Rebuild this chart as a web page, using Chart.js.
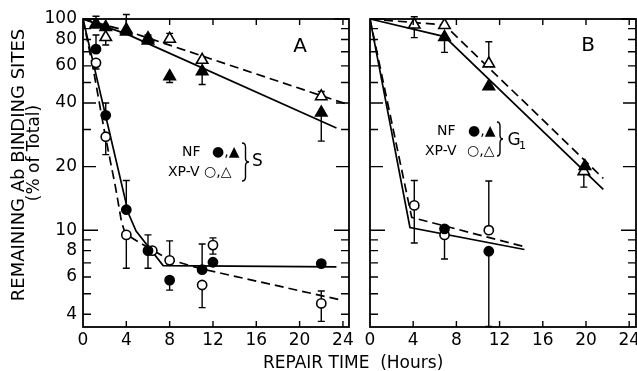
<!DOCTYPE html>
<html><head><meta charset="utf-8">
<script src="https://cdn.jsdelivr.net/npm/chart.js@4.4.1/dist/chart.umd.min.js"></script>
<style>
html,body{margin:0;padding:0;background:#fff;overflow:hidden;width:637px;height:371px;}
#wrap{position:relative;width:637px;height:371px;overflow:hidden;background:#fff;}
#ca{position:absolute;left:0;top:0;}
#cb{position:absolute;left:356px;top:0;}
#xt{position:absolute;left:263px;top:354px;font-family:"DejaVu Sans";font-size:17px;line-height:17px;white-space:pre;color:#000;}
</style></head><body>
<div id="wrap">
<canvas id="ca" width="360" height="371"></canvas>
<canvas id="cb" width="300" height="371"></canvas>
<div id="xt">REPAIR TIME  (Hours)</div>
</div>
<script>
// ---------- axis ticks ----------
const xTickLabels = [0, 4, 8, 12, 16, 20, 24];
const yTickLabels = [4, 6, 8, 10, 20, 40, 60, 80, 100];
const yTickMarks  = [4, 5, 6, 7, 8, 9, 10, 20, 30, 40, 50, 60, 70, 80, 90, 100];

// ---------- Panel A (S phase) : measured points ----------
const hoursA_nfCirc = [1.2, 2.1, 4, 6, 8, 11, 12, 22];
const pctA_nfCirc   = [72, 35, 12.5, 8.0, 5.8, 6.5, 7.05, 6.95];
const loA_nfCirc    = [null, null, null, 6.6, 5.2, null, null, null];
const hiA_nfCirc    = [84, 40, 17.2, 9.5, null, 8.6, null, null];

const hoursA_xpCirc = [1.2, 2.1, 4, 6.4, 8, 11, 12, 22];
const pctA_xpCirc   = [62, 27.7, 9.5, 8.0, 7.2, 5.5, 8.5, 4.5];
const loA_xpCirc    = [58, 22.8, 6.6, null, null, 4.3, 7.7, 3.7];
const hiA_xpCirc    = [null, null, null, null, 8.9, null, 9.2, 5.15];

const hoursA_nfTri = [1.2, 2.1, 4, 6, 8, 11, 22];
const pctA_nfTri   = [94, 91.5, 87, 79, 53.5, 56.5, 36];
const loA_nfTri    = [null, null, null, null, 50, 49, 26.4];
const hiA_nfTri    = [103, null, 105, 84, null, null, null];

const hoursA_xpTri = [1.2, 2.1, 4, 6, 8, 11, 22];
const pctA_xpTri   = [95, 82, 89, 81, 80.5, 64, 43];
const loA_xpTri    = [null, 75.3, null, null, null, null, null];
const hiA_xpTri    = [null, null, null, null, 85.5, null, 45.4];

// ---------- Panel A : fitted curves ----------
const fitA_nfTri_h  = [0, 4, 23.4];
const fitA_nfTri_v  = [100, 85, 30.5];
const fitA_xpTri_h  = [0, 4, 24.5];
const fitA_xpTri_v  = [100, 88, 39.3];
const fitA_nfCirc_h = [0, 4.2, 4.9, 7.4, 23.4];
const fitA_nfCirc_v = [100, 12, 9.9, 6.8, 6.7];
const fitA_xpCirc_h = [0, 1, 2, 3, 3.55, 3.8, 4.5, 6.4, 8, 11, 23.6];
const fitA_xpCirc_v = [100, 56, 29, 16, 11, 10, 9.2, 8.05, 7.25, 6.55, 4.7];

// ---------- Panel B (G1 phase) : measured points ----------
const hoursB_nfCirc = [6.9, 11];
const pctB_nfCirc   = [10.15, 7.95];
const loB_nfCirc    = [null, 3.5];
const hiB_nfCirc    = [null, null];

const hoursB_xpCirc = [4.1, 6.9, 11];
const pctB_xpCirc   = [13.1, 9.5, 10];
const loB_xpCirc    = [8.7, 7.3, null];
const hiB_xpCirc    = [17.2, null, 17.1];

const hoursB_nfTri = [6.9, 11, 19.9];
const pctB_nfTri   = [82, 48, 20.1];
const loB_nfTri    = [69.5, null, null];
const hiB_nfTri    = [null, null, null];

const hoursB_xpTri = [4.1, 6.9, 11, 19.8];
const pctB_xpTri   = [94, 93.5, 61.5, 19];
const loB_xpTri    = [81.6, null, null, 16];
const hiB_xpTri    = [102.5, null, 78, null];

// ---------- Panel B : fitted curves ----------
const fitB_nfTri_h  = [0, 6.9, 21.6];
const fitB_nfTri_v  = [100, 82.5, 15.6];
const fitB_xpTri_h  = [0, 6.9, 21.6];
const fitB_xpTri_v  = [100, 93.7, 17.6];
const fitB_nfCirc_h = [0, 3.7, 14.3];
const fitB_nfCirc_v = [100, 10.3, 8.1];
const fitB_xpCirc_h = [0, 3.86, 14.3];
const fitB_xpCirc_v = [100, 11.5, 8.35];

// ---------- helpers ----------
const FONT = '"DejaVu Sans"';
function pts(h, v) { return h.map((x, i) => ({ x: x, y: v[i] })); }

function markerSet(label, h, v, lo, hi, style, filled) {
  return {
    label: label, data: pts(h, v), errLo: lo, errHi: hi,
    showLine: false,
    pointStyle: style,
    pointRadius: style === 'triangle' ? 6.6 : 4.6,
    pointHoverRadius: style === 'triangle' ? 6.6 : 4.6,
    pointBackgroundColor: filled ? '#000' : '#fff',
    pointBorderColor: '#000',
    pointBorderWidth: 1.6,
    order: filled ? 0 : 1
  };
}
function fitSet(label, h, v, dashed) {
  return {
    label: label, data: pts(h, v), showLine: true,
    borderColor: '#000', borderWidth: 1.7,
    borderDash: dashed ? [9, 5] : [],
    pointRadius: 0, pointHoverRadius: 0, fill: false, tension: 0,
    order: 2
  };
}

const errorBars = {
  id: 'errorBars',
  beforeDatasetsDraw(chart) {
    const ctx = chart.ctx, x = chart.scales.x, y = chart.scales.y;
    ctx.save();
    ctx.strokeStyle = '#000'; ctx.lineWidth = 1.4;
    chart.data.datasets.forEach(ds => {
      if (!ds.errLo) return;
      ds.data.forEach((p, i) => {
        const px = x.getPixelForValue(p.x), py = y.getPixelForValue(p.y);
        [ds.errLo[i], ds.errHi[i]].forEach(e => {
          if (e == null) return;
          const ey = y.getPixelForValue(e);
          ctx.beginPath();
          ctx.moveTo(px, py); ctx.lineTo(px, ey);
          ctx.moveTo(px - 3.5, ey); ctx.lineTo(px + 3.5, ey);
          ctx.stroke();
        });
      });
    });
    ctx.restore();
  }
};

function tickLen(v) {
  if (v === 100 || v === 10) return 15;
  if (v === 20 || v === 40) return 13;
  return 8;
}

const frameTicks = {
  id: 'frameTicks',
  afterDatasetsDraw(chart) {
    const ctx = chart.ctx, a = chart.chartArea, x = chart.scales.x, y = chart.scales.y;
    ctx.save();
    ctx.strokeStyle = '#000';
    ctx.lineWidth = 1.8;
    ctx.strokeRect(a.left, a.top, a.right - a.left, a.bottom - a.top);
    ctx.lineWidth = 1.4;
    ctx.beginPath();
    yTickMarks.forEach(v => {
      const py = y.getPixelForValue(v), L = tickLen(v);
      ctx.moveTo(a.left, py); ctx.lineTo(a.left + L, py);
      ctx.moveTo(a.right, py); ctx.lineTo(a.right - L, py);
    });
    xTickLabels.forEach(v => {
      const px = x.getPixelForValue(v);
      if (px <= a.left + 1 || px >= a.right - 1) return;
      ctx.moveTo(px, a.top); ctx.lineTo(px, a.top + 6);
      ctx.moveTo(px, a.bottom); ctx.lineTo(px, a.bottom - 6);
    });
    ctx.stroke();
    ctx.restore();
  }
};

function textPlugin(items, braces) {
  return {
    id: 'texts',
    afterDraw(chart) {
      const ctx = chart.ctx;
      items.forEach(t => {
        ctx.save();
        ctx.fillStyle = '#000';
        ctx.font = t.size + 'px ' + FONT;
        ctx.textAlign = t.align || 'left';
        ctx.textBaseline = 'middle';
        ctx.translate(t.x, t.y);
        if (t.rot) ctx.rotate(t.rot);
        ctx.fillText(t.text, 0, 0);
        ctx.restore();
      });
      braces.forEach(b => {
        const x0 = b.x, w = b.w, y1 = b.y1, y2 = b.y2, ym = (y1 + y2) / 2, xm = x0 + w / 2;
        ctx.save();
        ctx.strokeStyle = '#000'; ctx.lineWidth = 1.4;
        ctx.beginPath();
        ctx.moveTo(x0, y1);
        ctx.quadraticCurveTo(xm, y1, xm, y1 + 4);
        ctx.lineTo(xm, ym - 4);
        ctx.quadraticCurveTo(xm, ym, x0 + w, ym);
        ctx.quadraticCurveTo(xm, ym, xm, ym + 4);
        ctx.lineTo(xm, y2 - 4);
        ctx.quadraticCurveTo(xm, y2, x0, y2);
        ctx.stroke();
        ctx.restore();
      });
    }
  };
}

function makeChart(id, datasets, xMax, padLeft, padRight, showY, tp) {
  return new Chart(document.getElementById(id), {
    type: 'scatter',
    data: { datasets: datasets },
    options: {
      responsive: false, animation: false, devicePixelRatio: 1,
      layout: { padding: { left: padLeft, right: padRight, top: 19, bottom: 0 } },
      plugins: { legend: { display: false }, tooltip: { enabled: false } },
      scales: {
        x: {
          type: 'linear', min: 0, max: xMax,
          afterBuildTicks: s => { s.ticks = xTickLabels.map(v => ({ value: v })); },
          grid: { display: false, drawTicks: false }, border: { display: false },
          ticks: { font: { family: 'DejaVu Sans', size: 17 }, color: '#000', padding: 3, maxRotation: 0, autoSkip: false },
          afterFit: s => { s.height = 44; }
        },
        y: {
          type: 'logarithmic', display: showY, min: 3.48, max: 100,
          afterBuildTicks: s => { s.ticks = yTickLabels.map(v => ({ value: v })); },
          grid: { display: false, drawTicks: false }, border: { display: false },
          ticks: { font: { family: 'DejaVu Sans', size: 17 }, color: '#000', padding: 6, autoSkip: false,
                   callback: v => String(v) },
          afterFit: s => { s.width = showY ? 83 : 0; }
        }
      }
    },
    plugins: [errorBars, frameTicks, tp]
  });
}

// ---------- Panel A ----------
const dsA = [
  markerSet('NF ●', hoursA_nfCirc, pctA_nfCirc, loA_nfCirc, hiA_nfCirc, 'circle', true),
  markerSet('NF ▲', hoursA_nfTri, pctA_nfTri, loA_nfTri, hiA_nfTri, 'triangle', true),
  markerSet('XP-V ○', hoursA_xpCirc, pctA_xpCirc, loA_xpCirc, hiA_xpCirc, 'circle', false),
  markerSet('XP-V △', hoursA_xpTri, pctA_xpTri, loA_xpTri, hiA_xpTri, 'triangle', false),
  fitSet('fit NF ▲', fitA_nfTri_h, fitA_nfTri_v, false),
  fitSet('fit XP-V △', fitA_xpTri_h, fitA_xpTri_v, true),
  fitSet('fit NF ●', fitA_nfCirc_h, fitA_nfCirc_v, false),
  fitSet('fit XP-V ○', fitA_xpCirc_h, fitA_xpCirc_v, true)
];
const tpA = textPlugin([
  { text: 'REMAINING Ab BINDING SITES', x: 19.5, y: 165, size: 18, align: 'center', rot: -Math.PI / 2 },
  { text: '(% of Total)', x: 35, y: 153, size: 17, align: 'center', rot: -Math.PI / 2 },
  { text: 'A', x: 300, y: 47, size: 20, align: 'center' },
  { text: 'NF', x: 182, y: 152, size: 14 },
  { text: '●,▲', x: 212, y: 152, size: 14 },
  { text: 'XP-V', x: 168, y: 172, size: 14 },
  { text: '○,△', x: 204, y: 172, size: 14 },
  { text: 'S', x: 252, y: 162, size: 17 }
], [{ x: 242, w: 7, y1: 143, y2: 181 }]);
makeChart('ca', dsA, 24.56, 0, 11, true, tpA);

// ---------- Panel B ----------
const dsB = [
  markerSet('NF ●', hoursB_nfCirc, pctB_nfCirc, loB_nfCirc, hiB_nfCirc, 'circle', true),
  markerSet('NF ▲', hoursB_nfTri, pctB_nfTri, loB_nfTri, hiB_nfTri, 'triangle', true),
  markerSet('XP-V ○', hoursB_xpCirc, pctB_xpCirc, loB_xpCirc, hiB_xpCirc, 'circle', false),
  markerSet('XP-V △', hoursB_xpTri, pctB_xpTri, loB_xpTri, hiB_xpTri, 'triangle', false),
  fitSet('fit NF ▲', fitB_nfTri_h, fitB_nfTri_v, false),
  fitSet('fit XP-V △', fitB_xpTri_h, fitB_xpTri_v, true),
  fitSet('fit NF ●', fitB_nfCirc_h, fitB_nfCirc_v, false),
  fitSet('fit XP-V ○', fitB_xpCirc_h, fitB_xpCirc_v, true)
];
const tpB = textPlugin([
  { text: 'B', x: 232, y: 46, size: 20, align: 'center' },
  { text: 'NF', x: 81, y: 131, size: 14 },
  { text: '●,▲', x: 112, y: 131, size: 14 },
  { text: 'XP-V', x: 69, y: 151, size: 14 },
  { text: '○,△', x: 111, y: 151, size: 14 },
  { text: 'G', x: 151.5, y: 141, size: 17 },
  { text: '1', x: 163, y: 146, size: 11 }
], [{ x: 141, w: 6, y1: 122, y2: 156 }]);
makeChart('cb', dsB, 24.63, 14, 20, false, tpB);
</script>
</body></html>
